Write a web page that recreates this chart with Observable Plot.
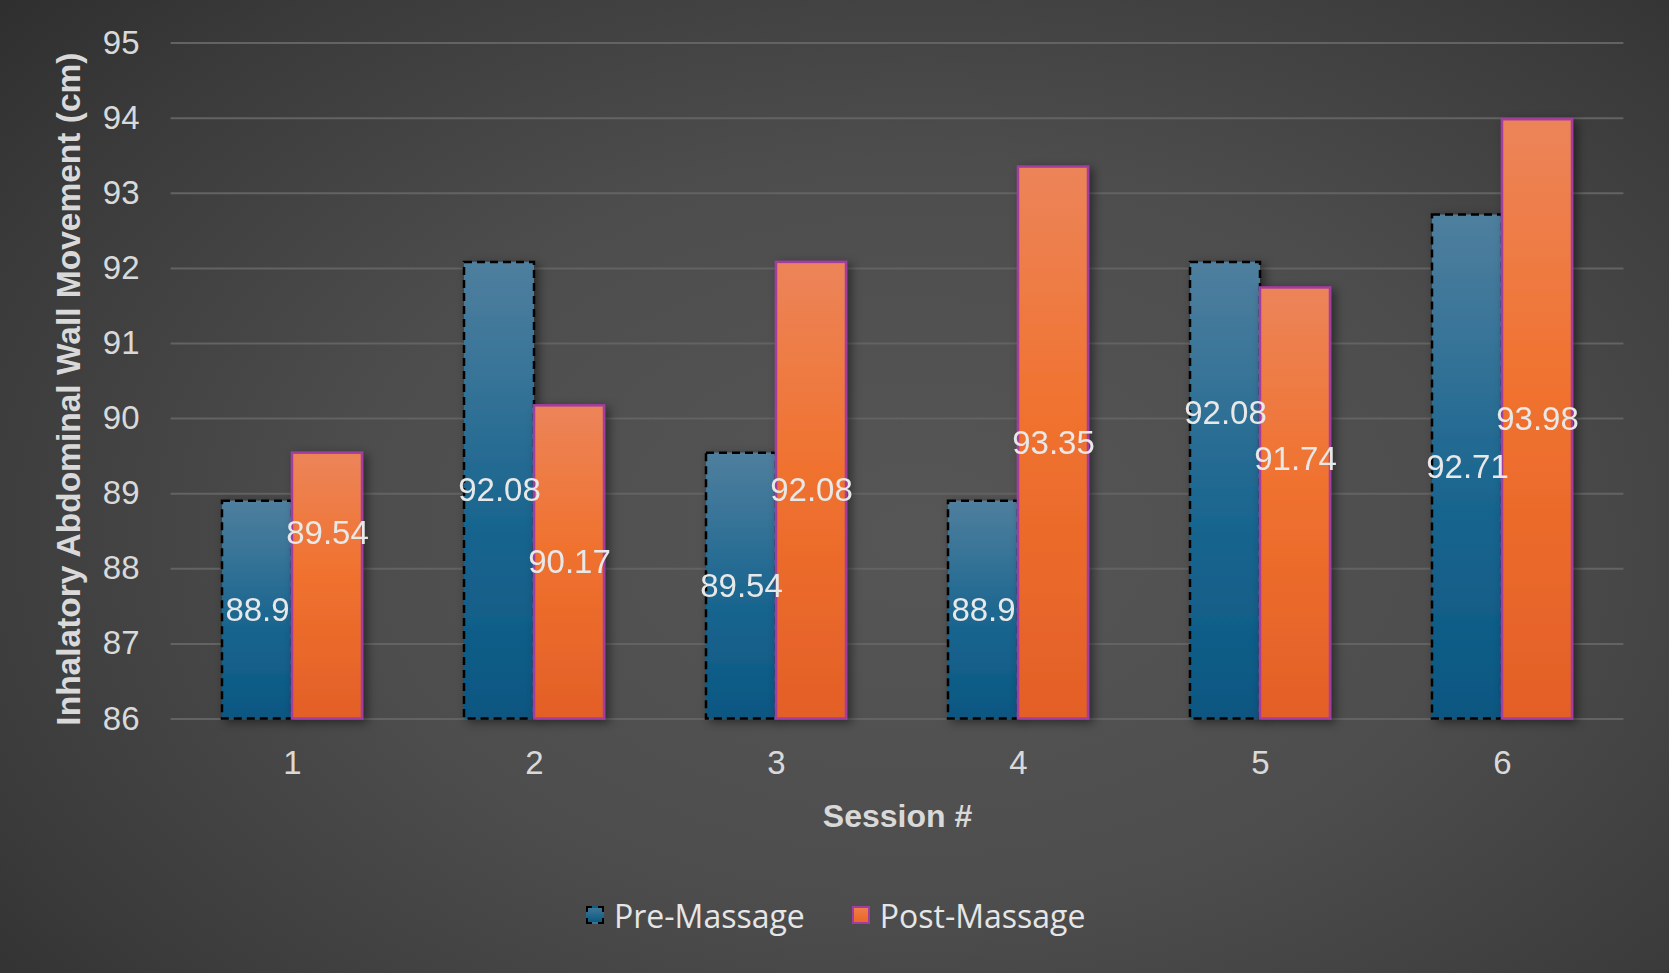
<!DOCTYPE html>
<html>
<head>
<meta charset="utf-8">
<script src="https://cdn.jsdelivr.net/npm/d3@7"></script>
<script src="https://cdn.jsdelivr.net/npm/@observablehq/plot@0.6"></script>
<style>
  html, body { margin: 0; padding: 0; }
  body {
    width: 1669px; height: 973px; overflow: hidden; position: relative;
    background: radial-gradient(ellipse 75% 85% at 55% 55%, #565656 0%, #4d4d4d 45%, #3a3a3a 80%, #2d2d2d 100%);
    font-family: "Liberation Sans", Arial, sans-serif;
  }
  #chart svg { display: block; }
  #legend {
    position: absolute; left: 586px; top: 894px; height: 42px;
    display: flex; align-items: center;
    font-family: "Open Sans", "Noto Sans", sans-serif; font-size: 32px; color: #e6e6e6;
  }
  #legend .item { display: flex; align-items: center; }
  #legend .sw { width: 18px; height: 18px; box-sizing: border-box; margin-right: 10px; }
  #legend .pre { background: linear-gradient(#3f7696, #0b5a84); border: 2.5px dashed #000; }
  #legend .post { background: linear-gradient(#ee7d47, #ea6628); border: 2.5px solid #a33ca0; }
  #legend .gap { width: 47px; }
</style>
</head>
<body>
<div id="chart"></div>
<div id="legend"></div>
<script>
// ---- data ----
const sessions = ["1", "2", "3", "4", "5", "6"];
const seriesNames = ["Pre-Massage", "Post-Massage"];
const preMassage = [88.9, 92.08, 89.54, 88.9, 92.08, 92.71];
const postMassage = [89.54, 90.17, 92.08, 93.35, 91.74, 93.98];
const yTicks = [86, 87, 88, 89, 90, 91, 92, 93, 94, 95];
const yTitle = "Inhalatory Abdominal Wall Movement (cm)";
const xTitle = "Session #";

// manually moved data labels (in data units, upward)
const labelNudge = {"1|Post-Massage": 0.70, "5|Pre-Massage": 1.03, "5|Post-Massage": 0.58};

const yMin = yTicks[0];
const rows = sessions.flatMap((s, i) => [
  {session: s, series: seriesNames[0], value: preMassage[i]},
  {session: s, series: seriesNames[1], value: postMassage[i]}
]);
const preRows = rows.filter(d => d.series === seriesNames[0]);
const postRows = rows.filter(d => d.series === seriesNames[1]);

// layout
const W = 1669, H = 850, ML = 170, MR = 44;
const fxPadInner = 0.42, fxPadOuter = 0.21;
const step = (W - ML - MR) / (sessions.length - fxPadInner + 2 * fxPadOuter);
const halfGap = step * fxPadInner / 2; // so grid lines run continuously between facets

const svg = Plot.plot({
  width: W,
  height: H,
  marginLeft: ML,
  marginRight: MR,
  marginTop: 42.6,
  marginBottom: 131.5,
  style: {background: "transparent", color: "#d9d9d9", fontFamily: "'Liberation Sans', Arial, sans-serif", fontSize: "32px", overflow: "visible"},
  fx: {domain: sessions, paddingInner: fxPadInner, paddingOuter: fxPadOuter},
  x: {domain: seriesNames, padding: 0, axis: null},
  y: {domain: [yMin, yTicks[yTicks.length - 1]]},
  marks: [
    Plot.gridY(yTicks, {stroke: "#636363", strokeOpacity: 1, strokeWidth: 2, insetLeft: -halfGap - 0.5, insetRight: -halfGap - 0.5}),
    Plot.axisY(yTicks, {tickSize: 0, tickPadding: 32 + halfGap, tickFormat: d => String(d), label: null, fill: "#d9d9d9", fontSize: 33}),
    Plot.axisFx({anchor: "bottom", tickSize: 0, tickPadding: 32, label: null, fill: "#d9d9d9", fontSize: 33}),
    Plot.barY(preRows, {fx: "session", x: "series", y1: () => yMin, y2: "value",
      fill: "url(#gradPre)", stroke: "#000", strokeWidth: 2.5, strokeDasharray: "8,5"}),
    Plot.barY(postRows, {fx: "session", x: "series", y1: () => yMin, y2: "value",
      fill: "url(#gradPost)", stroke: "#a33ca0", strokeWidth: 2.5}),
    Plot.text(rows, {fx: "session", x: "series",
      y: d => (d.value + yMin) / 2 + (labelNudge[d.session + "|" + d.series] || 0),
      text: d => String(d.value), fill: "#e8e8e8", fontSize: 33, lineAnchor: "middle"}),
    Plot.text([yTitle], {facet: "super", frameAnchor: "left", textAnchor: "middle", rotate: -90, dx: 68 - ML - halfGap, dy: 8,
      text: d => d, fill: "#d9d9d9", fontWeight: "bold", fontSize: 33.5, lineAnchor: "middle"}),
    Plot.text([xTitle], {facet: "super", frameAnchor: "bottom", dy: 97.5,
      text: d => d, fill: "#d9d9d9", fontWeight: "bold", fontSize: 32, lineAnchor: "middle"})
  ]
});

// gradient fills and shadow
const defs = d3.select(svg).insert("defs", ":first-child");
const gPre = defs.append("linearGradient").attr("id", "gradPre").attr("x1", 0).attr("y1", 0).attr("x2", 0).attr("y2", 1);
[["0%", "#4f7f9e"], ["55%", "#1a6690"], ["100%", "#0a5782"]].forEach(([o, c]) => gPre.append("stop").attr("offset", o).attr("stop-color", c));
const gPost = defs.append("linearGradient").attr("id", "gradPost").attr("x1", 0).attr("y1", 0).attr("x2", 0).attr("y2", 1);
[["0%", "#ec8459"], ["45%", "#f0722f"], ["100%", "#e35f27"]].forEach(([o, c]) => gPost.append("stop").attr("offset", o).attr("stop-color", c));
const f = defs.append("filter").attr("id", "shadow").attr("x", "-20%").attr("y", "-10%").attr("width", "150%").attr("height", "130%");
f.append("feDropShadow").attr("dx", 4).attr("dy", 3).attr("stdDeviation", 5).attr("flood-color", "#000").attr("flood-opacity", 0.45);
d3.select(svg).selectAll('g[aria-label="bar"]').attr("filter", "url(#shadow)");

document.getElementById("chart").appendChild(svg);

// legend
const legend = d3.select("#legend");
seriesNames.forEach((name, i) => {
  if (i > 0) legend.append("div").attr("class", "gap");
  const item = legend.append("div").attr("class", "item");
  item.append("div").attr("class", "sw " + (i === 0 ? "pre" : "post"));
  item.append("span").text(name);
});
</script>
</body>
</html>
